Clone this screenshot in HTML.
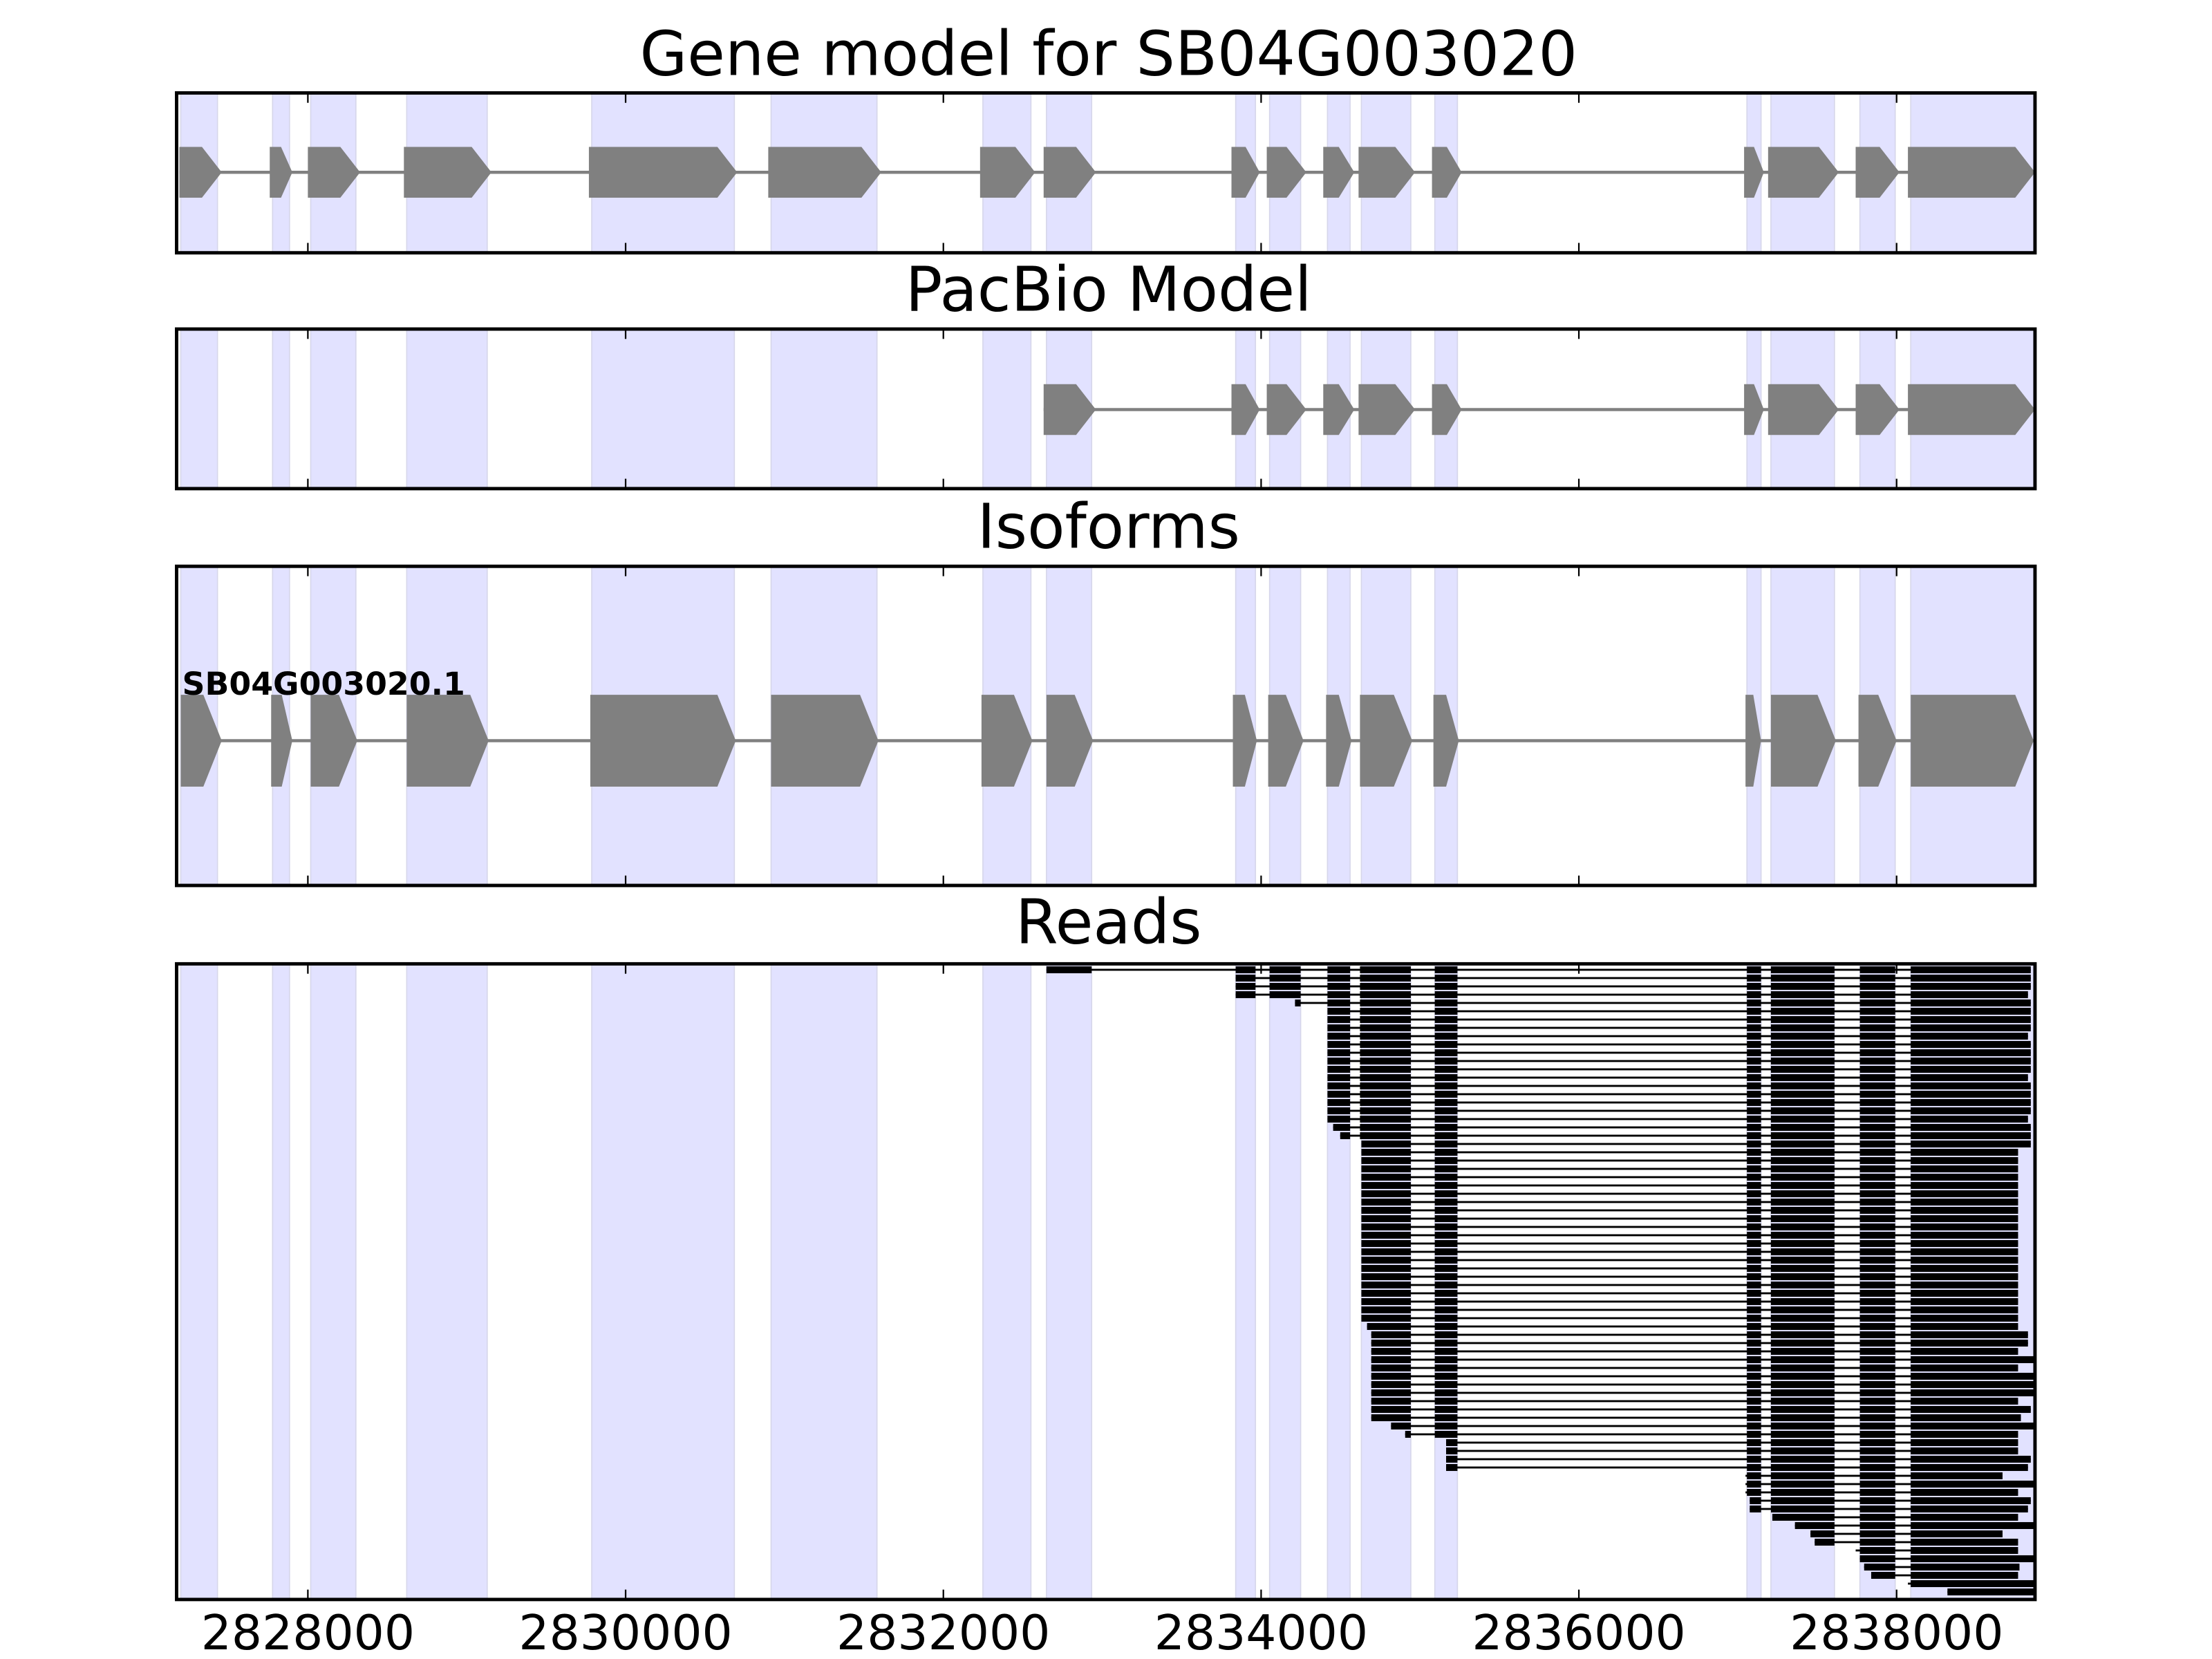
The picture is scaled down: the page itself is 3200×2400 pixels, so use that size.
<!DOCTYPE html>
<html><head><meta charset="utf-8"><style>
html,body{margin:0;padding:0;background:#fff;}
svg{display:block;}
text{font-family:"DejaVu Sans","Liberation Sans",sans-serif;}
</style></head><body>
<svg id="s" width="3200" height="2400" viewBox="0 0 3200 2400" xmlns="http://www.w3.org/2000/svg">
<rect width="3200" height="2400" fill="#fff"/>
<g id="g" transform="scale(2.043)"></g>
</svg>
<script>
var NS="http://www.w3.org/2000/svg";
var g=document.getElementById('g');
function el(t,a,txt){var e=document.createElementNS(NS,t);for(var k in a)e.setAttribute(k,a[k]);if(txt!==undefined)e.textContent=txt;g.appendChild(e);return e;}
var L=125.05,R=1441.0;
var shade=[[128,154],[193,205],[220,252],[288,345],[419,520],[546,621],[696,730],[741,773],[875,889],[899,921],[940,956],[964,999],[1016,1032],[1237,1247],[1254,1299],[1317,1342],[1353,1440]];
var p1=[[127,157],[191,207],[218,255],[286,348],[417,522],[544,624],[694,733],[739,776],[872,892],[897,925],[937,959],[962,1002],[1014,1035],[1235,1249],[1252,1302],[1314,1345],[1351,1441]];
var p3=[[128,157],[192,207],[220,253],[288,346],[418,521],[546,622],[695,731],[741,774],[873,890],[898,923],[939,957],[963,1000],[1015,1033],[1236,1247],[1254,1300],[1316,1343],[1353,1440]];
var panels=[[65.8,179],[233,346],[401,627],[682.5,1132.6]];
var titles=[["Gene model for SB04G003020",53],["PacBio Model",220],["Isoforms",388],["Reads",668]];
var ticks=[218,443,668,893,1118,1343],tl=["2828000","2830000","2832000","2834000","2836000","2838000"];
function shapes(list,top,bot,tip){
  var mid=(top+bot)/2;
  el('line',{x1:list[0][0],x2:list[list.length-1][1],y1:mid,y2:mid,stroke:'#808080','stroke-width':2.2});
  list.forEach(function(e){var w=e[1]-e[0],t=Math.min(tip,w*0.5);
    el('polygon',{points:e[0]+','+top+' '+(e[1]-t)+','+top+' '+e[1]+','+mid+' '+(e[1]-t)+','+bot+' '+e[0]+','+bot,fill:'#808080'});});
}
panels.forEach(function(p,i){
  shade.forEach(function(s){el('rect',{x:s[0],y:p[0],width:s[1]-s[0],height:p[1]-p[0],fill:'#e2e2ff',stroke:'#d6d6ea','stroke-width':0.8});});
  if(i==0)shapes(p1,104,140,14);
  if(i==1)shapes(p1.slice(7),272,308,14);
  if(i==2){shapes(p3,492,557,13);el('text',{x:129,y:492,'font-size':22.4,'font-weight':'bold',fill:'#000'},'SB04G003020.1');}
  if(i==3)reads();
  ticks.forEach(function(x){el('line',{x1:x,x2:x,y1:p[0],y2:p[0]+7,stroke:'#000','stroke-width':1.1});el('line',{x1:x,x2:x,y1:p[1],y2:p[1]-7,stroke:'#000','stroke-width':1.1});});
  el('rect',{x:L,y:p[0],width:R-L,height:p[1]-p[0],fill:'none',stroke:'#000','stroke-width':2.4});
  el('text',{x:785,y:titles[i][1],'font-size':43.5,'text-anchor':'middle',fill:'#000'},titles[i][0]);
});
ticks.forEach(function(x,k){el('text',{x:x,y:1168,'font-size':34,'text-anchor':'middle',fill:'#000'},tl[k]);});
function reads(){
  var st=[],en=[],i;
  st.push(741);for(i=1;i<=3;i++)st.push(875);st.push(917);
  for(i=5;i<=18;i++)st.push(940);st.push(944);st.push(949);
  for(i=21;i<=42;i++)st.push(964);st.push(968);
  for(i=44;i<=54;i++)st.push(971);
  st.push(985,995,1024,1024,1024,1024,1236,1236,1236,1239,1239,1255,1271,1282,1285,1314,1317,1320,1325,1351,1379,1379);
  for(i=0;i<=21;i++)en.push(i%5==3?1436:1438);
  for(i=22;i<=43;i++)en.push(1429);
  var tail=[1436,1436,1429,1440,1429,1440,1440,1440,1429,1438,1431,1440,1429,1429,1429,1438,1436,1418,1440,1429,1438,1436,1429,1440,1418,1429,1429,1440,1430,1429,1441,1441];
  en=en.concat(tail);
  var ex=[[741,773],[875,889],[899,921],[940,956],[963,999],[1016,1032],[1237,1247],[1254,1299],[1317,1342],[1353,1440]];
  for(i=0;i<76;i++){
    var y=686.7+5.874*i,s=st[i],e=en[i];
    el('rect',{x:s,y:y-0.7,width:e-s,height:1.4,fill:'#000'});
    ex.forEach(function(x,k){var a=Math.max(s,x[0]),b=Math.min(e,k==9?e:x[1]);
      if(b>a)el('rect',{x:a,y:y-2.45,width:b-a,height:4.9,fill:'#000'});});
  }
}
</script>
</body></html>
